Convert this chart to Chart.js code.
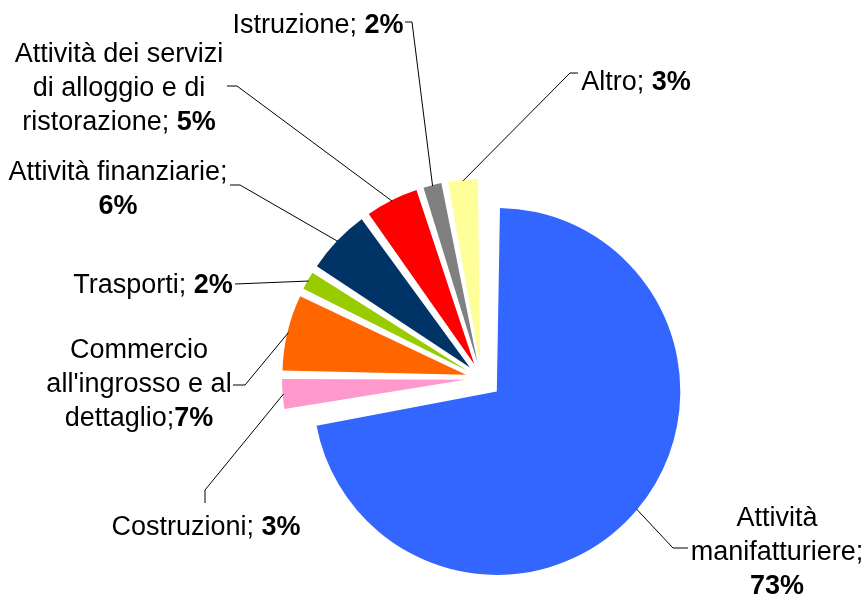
<!DOCTYPE html>
<html>
<head>
<meta charset="utf-8">
<script src="https://cdn.jsdelivr.net/npm/chart.js@4/dist/chart.umd.min.js"></script>
<style>
	html, body { margin: 0; padding: 0; background: #fff; }
	#wrap { width: 866px; height: 595px; position: relative; }
</style>
</head>
<body>
<div id="wrap"><canvas id="pieChart"></canvas></div>
<script>
const categories = [
	'Attività manifatturiere',
	'Costruzioni',
	"Commercio all'ingrosso e al dettaglio",
	'Trasporti',
	'Attività finanziarie',
	'Attività dei servizi di alloggio e di ristorazione',
	'Istruzione',
	'Altro'
];
const values = [73, 3, 7, 2, 6, 5, 2, 3];
const colors = ['#3366ff', '#ff99cc', '#ff6600', '#99cc00', '#003366', '#ff0000', '#808080', '#ffff99'];
// explode distance (chart.js moves a slice by offset / 4)
const explode = [80, 64, 64, 64, 64, 64, 64, 64];

// label text ({v} = bold percentage), text centre x, first baseline y, leader knee points
const labelLayout = [
	{ text: 'Attività\nmanifatturiere;\n{v}', x: 777, y: 526, knees: [[673, 548], [688, 548]] },
	{ text: 'Costruzioni; {v}', x: 206, y: 535, knees: [[205, 490], [205, 503]] },
	{ text: "Commercio\nall'ingrosso e al\ndettaglio;{v}", x: 139, y: 358, knees: [[245, 385], [233, 385]] },
	{ text: 'Trasporti; {v}', x: 153, y: 293, knees: [[235, 284]] },
	{ text: 'Attività finanziarie;\n{v}', x: 118, y: 180, knees: [[240, 185], [230, 185]] },
	{ text: 'Attività dei servizi\ndi alloggio e di\nristorazione; {v}', x: 119, y: 62, knees: [[237, 86], [227, 86]] },
	{ text: 'Istruzione; {v}', x: 318, y: 33, knees: [[412, 22], [405, 22]] },
	{ text: 'Altro; {v}', x: 636, y: 90, knees: [[570, 73], [578, 73]] }
];

const FONT_SIZE = 27;
const LINE_H = 34;
const FONT = FONT_SIZE + 'px "Liberation Sans", Arial, sans-serif';
const BOLD = 'bold ' + FONT;

function radiusFix(arc) {
	const circ = arc.endAngle - arc.startAngle;
	return 1 - Math.sin(Math.min(Math.PI, circ));
}

// chart.js grows an exploded arc's radius with its offset; keep all slices the same size
const evenRadius = {
	id: 'evenRadius',
	beforeDatasetsDraw(chart) {
		const meta = chart.getDatasetMeta(0);
		const maxShift = Math.max(...explode) / 4;
		const target = meta.controller.outerRadius + maxShift;
		meta.data.forEach(arc => {
			const shift = (arc.options.offset || 0) / 4;
			arc.outerRadius = target - shift * radiusFix(arc);
		});
	}
};

const leaderLabels = {
	id: 'leaderLabels',
	afterDatasetsDraw(chart) {
		const ctx = chart.ctx;
		const meta = chart.getDatasetMeta(0);
		ctx.save();
		meta.data.forEach((arc, i) => {
			const lay = labelLayout[i];
			const shift = (arc.options.offset || 0) / 4;
			const mid = (arc.startAngle + arc.endAngle) / 2;
			const r = arc.outerRadius + shift * radiusFix(arc);
			const ax = arc.x + Math.cos(mid) * (shift + r - 1);
			const ay = arc.y + Math.sin(mid) * (shift + r - 1);

			ctx.strokeStyle = '#000';
			ctx.lineWidth = 1;
			ctx.beginPath();
			ctx.moveTo(ax, ay);
			lay.knees.forEach(p => ctx.lineTo(p[0], p[1]));
			ctx.stroke();

			const pct = values[i] + '%';
			ctx.fillStyle = '#000';
			ctx.textBaseline = 'alphabetic';
			ctx.textAlign = 'left';
			lay.text.split('\n').forEach((line, k) => {
				const parts = line.split('{v}');
				const normal = parts[0];
				const bold = parts.length > 1 ? pct : '';
				ctx.font = FONT;
				const w1 = ctx.measureText(normal).width;
				ctx.font = BOLD;
				const w2 = bold ? ctx.measureText(bold).width : 0;
				const x0 = lay.x - (w1 + w2) / 2;
				const y = lay.y + k * LINE_H;
				ctx.font = FONT;
				ctx.fillText(normal, x0, y);
				if (bold) {
					ctx.font = BOLD;
					ctx.fillText(bold, x0 + w1, y);
				}
			});
		});
		ctx.restore();
	}
};

new Chart(document.getElementById('pieChart').getContext('2d'), {
	type: 'pie',
	data: {
		labels: categories,
		datasets: [{
			data: values,
			backgroundColor: colors,
			borderWidth: 0,
			offset: explode,
			hoverOffset: explode,
			radius: 163.5
		}]
	},
	options: {
		responsive: true,
		maintainAspectRatio: false,
		animation: false,
		events: [],
		layout: { padding: { left: 97, right: 0, top: 162, bottom: 0 } },
		plugins: {
			legend: { display: false },
			tooltip: { enabled: false }
		}
	},
	plugins: [evenRadius, leaderLabels]
});
</script>
</body>
</html>
